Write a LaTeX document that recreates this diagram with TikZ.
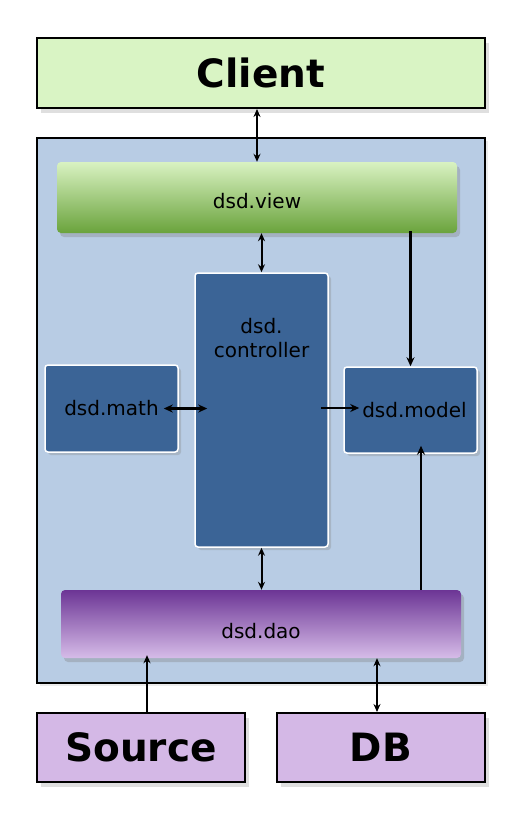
\documentclass[tikz,border=0pt]{standalone}
\usepackage{fontspec}
\setmainfont{DejaVu Sans}
\usetikzlibrary{arrows.meta,shadows,calc}
\definecolor{clientgreen}{HTML}{D9F4C4}
\definecolor{layerblue}{HTML}{B8CCE4}
\definecolor{modblue}{HTML}{3B6496}
\definecolor{viewtop}{HTML}{D9F2C2}
\definecolor{viewbot}{HTML}{6AA33C}
\definecolor{daotop}{HTML}{6C3595}
\definecolor{daobot}{HTML}{D6BCE8}
\definecolor{extlilac}{HTML}{D4B8E6}
\tikzset{
	extbox/.style={draw=black, line width=2pt, font=\bfseries\fontsize{39}{42}\selectfont,
		drop shadow={opacity=0.25, shadow xshift=4pt, shadow yshift=-5pt}},
	layerbox/.style={rounded corners=4pt, font=\fontsize{20}{23}\selectfont,
		drop shadow={opacity=0.35, shadow xshift=3pt, shadow yshift=-4pt}},
	modbox/.style={draw=white, line width=1.5pt, fill=modblue, rounded corners=3pt,
		font=\fontsize{20}{24}\selectfont, align=center,
		drop shadow={opacity=0.3, shadow xshift=3pt, shadow yshift=-3pt}},
	link/.style={line width=2pt, {Stealth[length=8pt,width=7pt]}-{Stealth[length=8pt,width=7pt]}},
	flow/.style={line width=2.8pt, -{Stealth[length=9pt,width=8pt]}},
	feed/.style={line width=2pt, -{Stealth[length=8pt,width=7pt]}}
}
\begin{document}
\begin{tikzpicture}[x=1pt,y=-1pt]
		\useasboundingbox[fill=white] (0,0) rectangle (515,833);
		\node[extbox, fill=clientgreen, minimum width=448pt, minimum height=70pt] (client) at (261,73) {Client};
		\node[draw=black, line width=2pt, fill=layerblue, minimum width=448pt, minimum height=545pt,
			drop shadow={opacity=0.15, shadow xshift=3pt, shadow yshift=-3pt}] (app) at (261,410.5) {};
		\node[layerbox, top color=viewtop, bottom color=viewbot, minimum width=400pt, minimum height=71pt] (view) at (257,197.5) {\raisebox{-11pt}[0pt][0pt]{dsd.view}};
		\node[modbox, minimum width=133pt, minimum height=274pt] (ctrl) at (261.5,410) {};
		\node[font=\fontsize{20}{24}\selectfont, align=center, anchor=north] (ctrllabel) at ([yshift=-43pt]ctrl.north) {dsd.\\controller};
		\node[modbox, minimum width=133pt, minimum height=87pt] (math) at (111.5,408.5) {dsd.math};
		\node[modbox, minimum width=133pt, minimum height=86pt] (model) at (410.5,410) {\hspace{8pt}dsd.model};
		\node[layerbox, top color=daotop, bottom color=daobot, minimum width=400pt, minimum height=68pt] (dao) at (261,624) {\raisebox{-14pt}[0pt][0pt]{dsd.dao}};
		\node[extbox, fill=extlilac, minimum width=208pt, minimum height=69pt] (source) at (141,747.5) {Source};
		\node[extbox, fill=extlilac, minimum width=208pt, minimum height=69pt] (db) at (381,747.5) {DB};
		\draw[link] (client.south -| view.north) -- (view.north);
		\draw[link] (view.south -| ctrl.north) -- (ctrl.north);
		\draw[flow] ([yshift=2pt]view.south -| model.north) -- (model.north);
		\draw[flow, {Stealth[length=9pt,width=8pt]}-{Stealth[length=9pt,width=8pt]}] ([xshift=-15pt]math.east) -- ([xshift=13pt]ctrl.west |- math.east);
		\draw[flow] ([xshift=-8pt,yshift=2pt]ctrl.east) -- ([xshift=16pt,yshift=2pt]model.west);
		\draw[link] (ctrl.south) -- (dao.north -| ctrl.south);
		\draw[flow] ([xshift=10.5pt]model.south |- dao.north) -- ([xshift=10.5pt,yshift=8pt]model.south);
		\draw[feed] ([xshift=6pt]source.north) -- ([xshift=6pt,yshift=3pt]source.north |- dao.south);
		\draw[link] ([xshift=-4pt]db.north) -- ([xshift=-4pt]db.north |- dao.south);
\end{tikzpicture}
\end{document}
